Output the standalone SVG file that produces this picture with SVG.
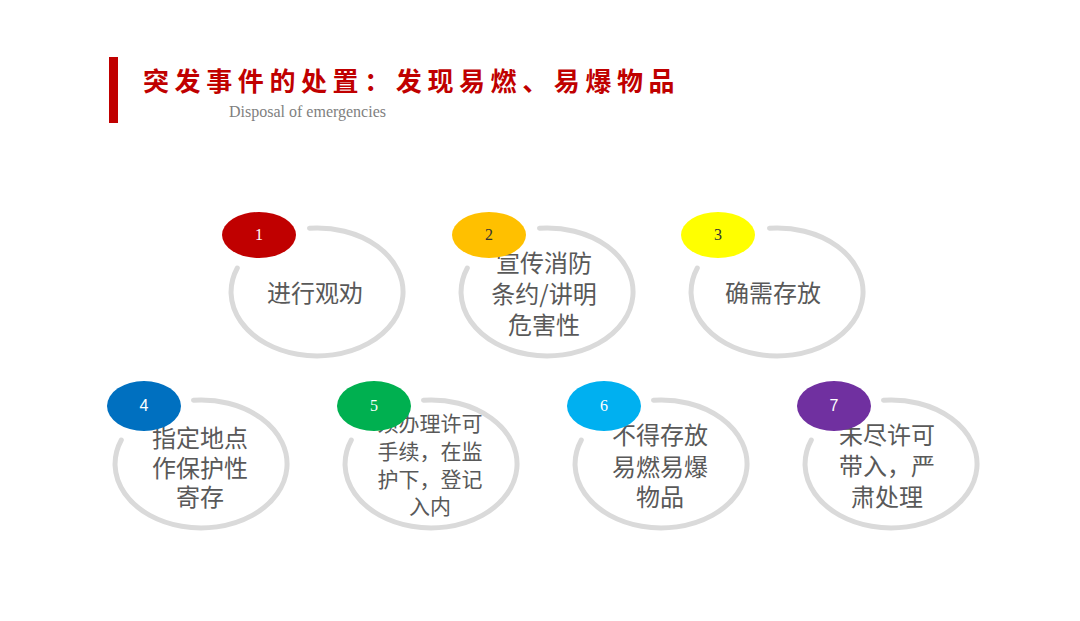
<svg xmlns="http://www.w3.org/2000/svg" width="1080" height="621" viewBox="0 0 1080 621">
<style>
.ring{fill:none;stroke:#dadada;stroke-width:5;stroke-linecap:round}
.lbl{font-family:"Noto Sans CJK SC","Noto Sans",sans-serif;font-size:24px;fill:#595959;text-anchor:middle;dominant-baseline:central}
.sm{font-size:21px}
.num{font-family:"Liberation Serif",serif;font-size:16px;text-anchor:middle;dominant-baseline:central;fill:#ffffff}
.numsans{font-family:"Liberation Sans",sans-serif}
.dark{fill:#333333}
</style>
<rect width="1080" height="621" fill="#ffffff"/>
<g id="title">
<rect x="109" y="57" width="9" height="66" fill="#c00000"/>
<text x="143" y="79" font-family="Noto Sans CJK SC,sans-serif" font-size="26" font-weight="bold" fill="#c00000" letter-spacing="5.6" dominant-baseline="central">突发事件的处置：发现易燃、易爆物品</text>
<text x="229" y="117" font-family="Liberation Serif,serif" font-size="16" fill="#7f7f7f">Disposal of emergencies</text>
</g>
<g id="node1">
<path class="ring" d="M309.5 228.2 A86 64 0 1 1 237.3 268"/>
<text class="lbl" x="315" y="291">进行观劝</text>
<ellipse cx="259" cy="235" rx="37" ry="23" fill="#c00000"/>
<text class="num" x="259" y="234">1</text>
</g>
<g id="node2">
<path class="ring" d="M539.5 228.2 A86 64 0 1 1 467.3 268"/>
<text class="lbl" x="544" y="261">宣传消防</text>
<text class="lbl" x="544" y="292">条约/讲明</text>
<text class="lbl" x="544" y="323">危害性</text>
<ellipse cx="489" cy="235" rx="37" ry="23" fill="#ffc000"/>
<text class="num dark" x="489" y="234">2</text>
</g>
<g id="node3">
<path class="ring" d="M769.5 228.2 A86 64 0 1 1 697.3 268"/>
<text class="lbl" x="773" y="291">确需存放</text>
<ellipse cx="718" cy="235" rx="37" ry="23" fill="#ffff00"/>
<text class="num dark" x="718" y="234">3</text>
</g>
<g id="node4">
<path class="ring" d="M193.5 400.2 A86 64 0 1 1 121.3 440"/>
<text class="lbl" x="200" y="436">指定地点</text>
<text class="lbl" x="200" y="466">作保护性</text>
<text class="lbl" x="200" y="495">寄存</text>
<ellipse cx="144" cy="406" rx="37" ry="25" fill="#0070c0"/>
<text class="num numsans" x="144" y="405">4</text>
</g>
<g id="node5">
<path class="ring" d="M423.5 400.2 A86 64 0 1 1 351.3 440"/>
<text class="lbl sm" x="430" y="422">须办理许可</text>
<text class="lbl sm" x="430" y="450">手续，在监</text>
<text class="lbl sm" x="430" y="478">护下，登记</text>
<text class="lbl sm" x="430" y="505">入内</text>
<ellipse cx="374" cy="406" rx="37" ry="25" fill="#00b050"/>
<text class="num" x="374" y="405">5</text>
</g>
<g id="node6">
<path class="ring" d="M653.5 400.2 A86 64 0 1 1 581.3 440"/>
<text class="lbl" x="660" y="433">不得存放</text>
<text class="lbl" x="660" y="465">易燃易爆</text>
<text class="lbl" x="660" y="495">物品</text>
<ellipse cx="604" cy="406" rx="37" ry="25" fill="#00b0f0"/>
<text class="num" x="604" y="405">6</text>
</g>
<g id="node7">
<path class="ring" d="M883.5 400.2 A86 64 0 1 1 811.3 440"/>
<text class="lbl" x="887" y="433">未尽许可</text>
<text class="lbl" x="887" y="464">带入，严</text>
<text class="lbl" x="887" y="495">肃处理</text>
<ellipse cx="834" cy="406" rx="37" ry="25" fill="#7030a0"/>
<text class="num numsans" x="834" y="405">7</text>
</g>
</svg>
